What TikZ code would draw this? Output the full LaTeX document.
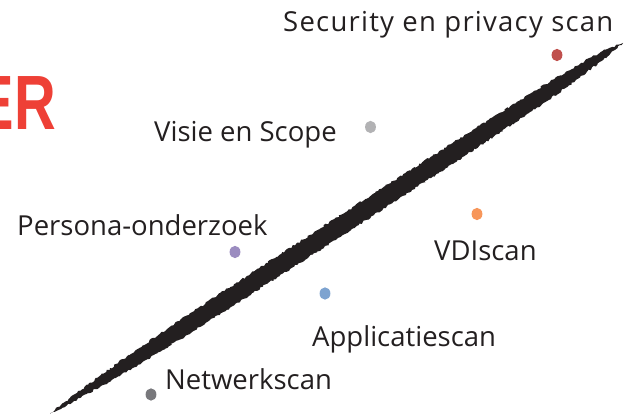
\documentclass[tikz,border=0pt]{standalone}
\usepackage{fontspec}
\setmainfont{Open Sans}
\newfontfamily\erfont{Liberation Sans}
\usetikzlibrary{calc,decorations.pathmorphing}
\definecolor{ink}{RGB}{35,31,32}
\definecolor{erred}{RGB}{238,64,54}
\definecolor{cred}{RGB}{192,80,77}
\definecolor{cgrey}{RGB}{178,178,180}
\definecolor{corange}{RGB}{247,150,90}
\definecolor{cpurple}{RGB}{155,140,192}
\definecolor{cblue}{RGB}{125,163,208}
\definecolor{cdark}{RGB}{120,120,124}
\tikzset{
  lbl/.style={anchor=base west, inner sep=0pt, text=ink, font=\fontsize{27.5}{33}\selectfont},
  brush/.style={fill=ink, decorate, decoration={random steps, segment length=2pt, amplitude=1pt}}
}
\pgfmathsetseed{7}
\begin{document}
\begin{tikzpicture}[x=1pt,y=-1pt]
\useasboundingbox (0,0) rectangle (632,419);
% brush stroke
\coordinate (A) at (50,414);
\coordinate (B) at (623,43);
\fill[brush] (A)
  \foreach \t/\w in {0.02/1.5,0.05/3,0.09/4.8,0.14/6.5,0.2/7.8,0.3/8.6,0.45/9,0.6/9,0.75/8.6,0.85/7.8,0.91/6.6,0.95/5.2,0.98/3.2}
    { -- ($(A)!\t!(B)!\w pt!90:(B)$) }
  -- (B)
  \foreach \t/\w in {0.985/1.5,0.96/3.5,0.92/5.5,0.86/7.4,0.75/8.6,0.6/9,0.45/9,0.3/8.6,0.2/7.8,0.14/6.5,0.09/4.8,0.05/3,0.02/1.5}
    { -- ($(A)!\t!(B)!\w pt!-90:(B)$) }
  -- cycle;
% ER
\node[anchor=base east, inner sep=0pt, text=erred, xscale=0.75, font=\erfont\bfseries\fontsize{77}{80}\selectfont] (er) at (56,130) {ER};
% dots
\fill[cred] (557,55) ellipse [x radius=5.4, y radius=6.2] coordinate (dsec);
\fill[cgrey] (370.5,127) ellipse [x radius=5.4, y radius=6.2] coordinate (dvis);
\fill[corange] (477,214) ellipse [x radius=5.4, y radius=6.2] coordinate (dvdi);
\fill[cpurple] (235,252) ellipse [x radius=5.4, y radius=6.2] coordinate (dper);
\fill[cblue] (325,293.5) ellipse [x radius=5.4, y radius=6.2] coordinate (dapp);
\fill[cdark] (151,394.5) ellipse [x radius=5.4, y radius=6.2] coordinate (dnet);
% labels
\node[lbl, font=\fontsize{27.5}{33}\selectfont\addfontfeature{LetterSpace=4.5}] (sec) at (283,32) {Security en privacy scan};
\node[lbl] (vis) at (154,141.5) {Visie en Scope};
\node[lbl] (per) at (17,235.5) {Persona-onderzoek};
\node[lbl] (vdi) at (434,260.5) {VDIscan};
\node[lbl] (app) at (312,346.5) {Applicatiescan};
\node[lbl] (net) at (165,390) {Netwerkscan};
\end{tikzpicture}
\end{document}
